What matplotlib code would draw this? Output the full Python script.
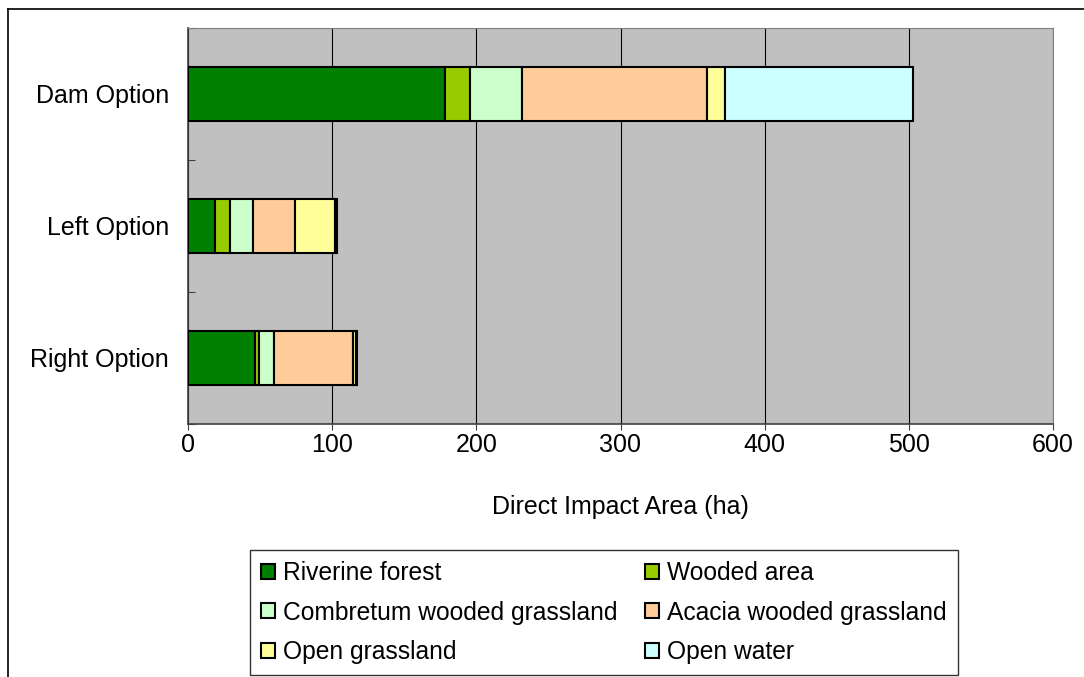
import matplotlib
matplotlib.use("Agg")
import matplotlib.pyplot as plt
from matplotlib.lines import Line2D

plt.rcParams['font.family'] = ['Liberation Sans', 'DejaVu Sans']

options = ['Dam Option', 'Left Option', 'Right Option']
land_types = ['Riverine forest', 'Wooded area', 'Combretum wooded grassland',
              'Acacia wooded grassland', 'Open grassland', 'Open water']
riverine = [178.3, 18.5, 46.2]
wooded = [17.1, 10.6, 2.8]
combretum = [36.3, 16.0, 10.9]
acacia = [128.6, 29.3, 54.6]
open_grass = [12.4, 27.8, 2.0]
open_water = [130.2, 1.0, 0.6]
colors = ['#008000', '#99CC00', '#CCFFCC', '#FFCC99', '#FFFF99', '#CCFFFF']

series = [riverine, wooded, combretum, acacia, open_grass, open_water]
fs = 18

fig = plt.figure(figsize=(10.84, 6.77), dpi=100)
ax = fig.add_axes([188/1084, 1-424/677, 865/1084, 396/677])
ax.set_facecolor('#C0C0C0')

ypos = [2.5, 1.5, 0.5]
left = [0, 0, 0]
for vals, name, c in zip(series, land_types, colors):
    ax.barh(ypos, vals, left=left, height=0.41, color=c, edgecolor='black',
            linewidth=1.5, label=name, zorder=3)
    left = [l + v for l, v in zip(left, vals)]

ax.set_xlim(0, 600)
ax.set_ylim(0, 3)
ax.set_xticks(range(0, 601, 100))
ax.set_yticks([0, 1, 2, 3])
ax.set_yticklabels([])
ax.set_yticks(ypos, minor=True)
ax.set_yticklabels(options, minor=True)
ax.tick_params(axis='y', which='minor', length=0, pad=13.5, labelsize=fs)
ax.tick_params(axis='y', which='major', length=5, direction='in', color='#404040')
ax.tick_params(axis='x', length=4, direction='out', pad=2.5, labelsize=fs, color='#404040')
ax.grid(axis='x', color='black', linewidth=0.8, zorder=1)
for s in ['top', 'right']:
    ax.spines[s].set_color('#808080')
for s in ['left', 'bottom']:
    ax.spines[s].set_color('#404040')
    ax.spines[s].set_linewidth(1.2)
ax.set_xlabel('Direct Impact Area (ha)', fontsize=fs, labelpad=27.5)

handles, labels = ax.get_legend_handles_labels()
order = [0, 2, 4, 1, 3, 5]
leg = fig.legend([handles[i] for i in order], [labels[i] for i in order], ncol=2,
                 loc='upper left', bbox_to_anchor=(250/1084, 0, 708/1084, 1-550/677),
                 mode='expand',
                 fontsize=17.7, frameon=True, fancybox=False, edgecolor='black',
                 handlelength=0.55, handleheight=0.55, handletextpad=0.35,
                 labelspacing=0.63, borderpad=0.45, borderaxespad=0, columnspacing=0.4)
leg.get_frame().set_linewidth(1.0)

fig.add_artist(Line2D([8/1084, 1], [1-9/677, 1-9/677], color='black', linewidth=1.2))
fig.add_artist(Line2D([8/1084, 8/1084], [0, 1-9/677], color='black', linewidth=1.2))

fig.savefig('out.png', dpi=100)
